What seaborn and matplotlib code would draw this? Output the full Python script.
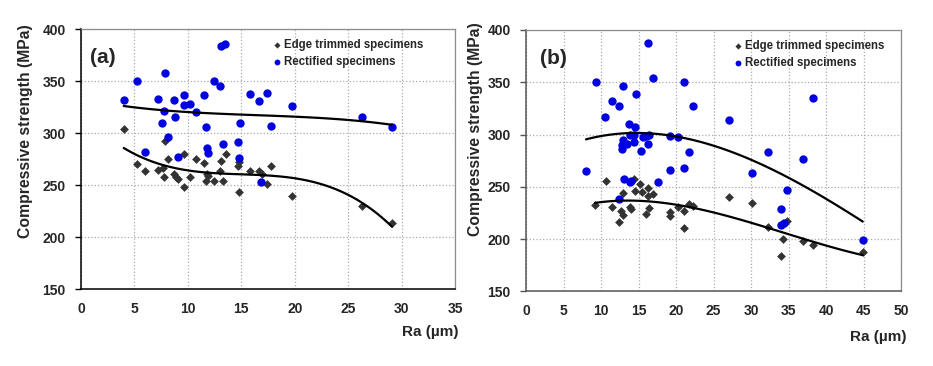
import numpy as np
import matplotlib
matplotlib.use("Agg")
import matplotlib.pyplot as plt
import seaborn as sns

sns.set_style("white")
plt.rcParams["font.family"] = ["Liberation Sans", "DejaVu Sans"]
plt.rcParams["font.weight"] = "bold"

# =====================================================
# DATA
# =====================================================

# panel (a)
ra_a_edge = [4.0, 7.9, 9.6, 8.1, 10.8, 13.6, 13.1, 11.5, 14.8, 5.2, 6.0, 7.2,
             7.7, 17.8, 15.8, 16.7, 16.9, 14.7, 7.8, 8.7, 8.9, 9.1, 9.6, 10.2,
             11.8, 11.9, 11.7, 12.4, 13.0, 13.3, 14.8, 17.4, 19.7, 26.3, 29.1]
cs_a_edge = [304, 293, 280, 275, 275, 280, 273, 271, 272, 270, 264, 265,
             267, 269, 264, 264, 261, 269, 258, 261, 258, 256, 248, 258,
             261, 259, 254, 254, 264, 254, 244, 251, 240, 230, 214]

ra_a_rect = [4.0, 5.2, 7.9, 7.2, 8.7, 9.6, 9.6, 10.2, 7.8, 8.8, 7.6, 10.8,
             11.5, 12.4, 13.0, 13.1, 13.5, 11.7, 8.1, 6.0, 9.1, 11.8, 11.9,
             13.3, 14.7, 14.9, 14.8, 15.8, 16.7, 17.4, 17.8, 19.7, 26.3, 29.1,
             16.8]
cs_a_rect = [332, 350, 358, 333, 332, 337, 327, 328, 321, 316, 310, 320,
             337, 350, 345, 384, 386, 306, 296, 282, 277, 286, 281,
             290, 292, 310, 276, 338, 331, 339, 307, 326, 316, 306,
             253]

# panel (b)
ra_b_edge = [9.2, 10.6, 11.5, 12.4, 12.6, 12.9, 12.9, 13.8, 14.0, 14.4, 15.2,
             14.5, 15.5, 16.2, 16.9, 16.2, 16.4, 16.0, 19.2, 19.2, 20.2, 21.1,
             21.1, 21.7, 22.2, 27.0, 30.1, 32.3, 34.8, 34.2, 34.0, 36.9, 38.2,
             44.9]
cs_b_edge = [233, 256, 231, 216, 227, 223, 244, 231, 229, 258, 253,
             246, 245, 249, 243, 241, 230, 224, 226, 222, 231, 227,
             211, 234, 232, 240, 235, 212, 217, 200, 184, 198, 194,
             188]

ra_b_rect = [16.2, 9.3, 12.9, 14.6, 16.9, 21.1, 22.2, 11.5, 12.4, 10.5, 13.7,
             14.5, 13.8, 14.4, 15.6, 16.0, 16.4, 12.9, 13.4, 12.8, 12.8, 14.4,
             16.2, 15.3, 19.2, 20.2, 21.7, 8.0, 19.2, 21.1, 27.0, 13.1, 13.8,
             14.0, 17.6, 12.4, 38.2, 32.3, 36.9, 30.1, 34.8, 34.0, 34.0, 34.4,
             44.9]
cs_b_rect = [388, 350, 346, 339, 354, 350, 327, 332, 327, 317, 310,
             307, 300, 300, 298, 299, 300, 295, 291, 290, 286, 293,
             291, 284, 299, 298, 283, 265, 266, 268, 314, 258, 255,
             256, 255, 238, 335, 283, 277, 263, 247, 229, 214, 215,
             199]

x_max_a = 35
x_max_b = 50
y_ticks = [150, 200, 250, 300, 350, 400]

BLUE = "#0000E0"
GREY = "#333333"

# =====================================================
# PLOT
# =====================================================

fig = plt.figure(figsize=(9.33, 3.66), dpi=100)
ax_a = fig.add_axes([0.0868, 0.2096, 0.4009, 0.7104])
ax_b = fig.add_axes([0.5638, 0.2036, 0.4019, 0.7145])

panels = [
    (ax_a, ra_a_edge, cs_a_edge, ra_a_rect, cs_a_rect, x_max_a, "(a)", "black"),
    (ax_b, ra_b_edge, cs_b_edge, ra_b_rect, cs_b_rect, x_max_b, "(b)", "#555555"),
]

for ax, xe, ye, xr, yr, xmax, tag, axcol in panels:
    sns.scatterplot(x=xe, y=ye, marker="D", s=20, color=GREY, edgecolor=GREY,
                    linewidth=0, label="Edge trimmed specimens", ax=ax, zorder=3)
    sns.scatterplot(x=xr, y=yr, marker="o", s=36, color=BLUE, edgecolor=BLUE,
                    linewidth=0, label="Rectified specimens", ax=ax, zorder=3)

    # polynomial trend lines (order 3)
    sns.regplot(x=np.array(xe), y=np.array(ye), order=3, ci=None, scatter=False,
                color="black", line_kws={"linewidth": 1.6, "zorder": 4}, ax=ax)
    sns.regplot(x=np.array(xr), y=np.array(yr), order=3, ci=None, scatter=False,
                color="black", line_kws={"linewidth": 1.6, "zorder": 4}, ax=ax)

    ax.set_xlim(0, xmax)
    ax.set_ylim(150, 400)
    ax.set_xticks(range(0, xmax + 1, 5))
    ax.set_yticks(y_ticks)
    ax.grid(True, linestyle=":", color="#ABABAB", linewidth=0.9)
    ax.set_axisbelow(True)

    for side in ["top", "right"]:
        ax.spines[side].set_color("#8C8C8C")
        ax.spines[side].set_linewidth(0.9)
    for side in ["left", "bottom"]:
        ax.spines[side].set_color(axcol)
        ax.spines[side].set_linewidth(1.1)

    ax.tick_params(axis="x", length=0, pad=9, labelsize=10)
    ax.tick_params(axis="y", length=4, width=1, color=axcol, pad=7, labelsize=10,
                   direction="out", left=True)

    ax.set_ylabel("Compressive strength (MPa)", fontsize=11.3, fontweight="bold")
    ax.set_xlabel("Ra (µm)", fontsize=11, fontweight="bold", loc="right")

    ax.text(0.024 if tag == "(a)" else 0.037, 0.89, tag, transform=ax.transAxes,
            fontsize=15, fontweight="bold", va="center", ha="left")

# label and legend placement per panel
ax_a.yaxis.set_label_coords(-0.128, 0.609)
ax_b.yaxis.set_label_coords(-0.115, 0.621)
ax_a.xaxis.set_label_coords(1.01, -0.137)
ax_b.xaxis.set_label_coords(1.015, -0.147)

ax_a.legend(loc="upper left", bbox_to_anchor=(0.50, 0.985), frameon=False,
            prop={"size": 8.3, "weight": "bold"}, handlelength=0.6,
            handletextpad=0.3, borderpad=0, labelspacing=0.45, markerscale=0.7)
ax_b.legend(loc="upper left", bbox_to_anchor=(0.54, 0.985), frameon=False,
            prop={"size": 8.3, "weight": "bold"}, handlelength=0.6,
            handletextpad=0.3, borderpad=0, labelspacing=0.45, markerscale=0.7)

plt.savefig("out.png", dpi=100)
